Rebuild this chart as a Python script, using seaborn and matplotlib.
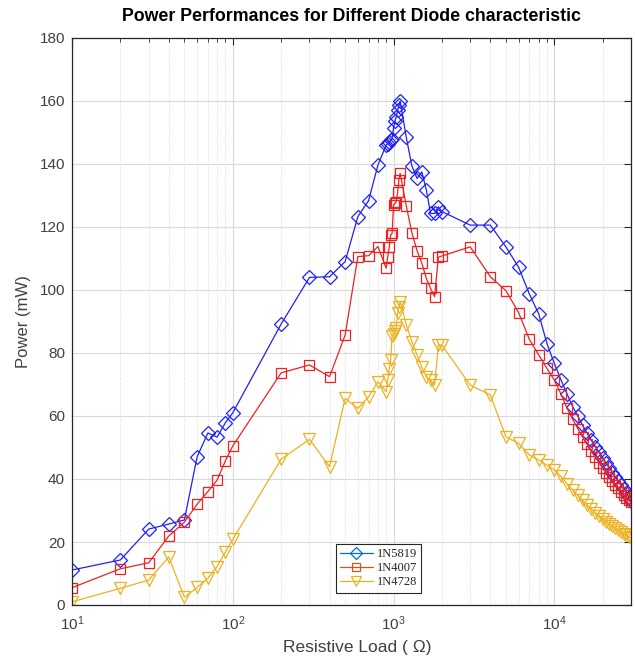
import matplotlib
matplotlib.use("Agg")
import matplotlib.pyplot as plt
import matplotlib.ticker as mticker
from matplotlib.lines import Line2D
import seaborn as sns
import pandas as pd
import numpy as np

# ---------------- data ----------------
load_ohm = [10, 20, 30, 40, 50, 60, 70, 80, 90, 100,
            200, 300, 400, 500, 600, 700, 800,
            900, 920, 940, 960, 980, 1000, 1020, 1040, 1060, 1080, 1100,
            1200, 1300, 1400, 1500, 1600, 1700, 1800, 1900, 2000,
            3000, 4000, 5000, 6000, 7000, 8000, 9000,
            10000, 11000, 12000, 13000, 14000, 15000, 16000, 17000, 18000, 19000,
            20000, 21000, 22000, 23000, 24000, 25000, 26000, 27000, 28000, 29000, 30000]

p_1n5819 = [11.1, 14.3, 24.1, 25.7, 27.0, 47.0, 54.6, 53.3, 57.9, 61.0,
            89.2, 104.0, 104.2, 109.0, 123.3, 128.4, 139.7,
            146.0, 146.5, 147.0, 147.5, 148.0, 151.5, 153.5, 155.0, 157.0, 158.7, 160.0,
            148.5, 139.4, 135.4, 137.5, 131.7, 124.3, 124.3, 126.4, 124.9,
            120.6, 120.6, 113.7, 107.2, 98.7, 92.4, 83.0,
            76.7, 71.5, 67.0, 63.0, 60.0, 57.0, 54.5, 52.3, 50.3, 48.5,
            46.8, 45.0, 43.5, 42.0, 40.6, 39.3, 38.0, 36.8, 35.6, 34.4, 33.0]

p_1n4007 = [5.5, 11.5, 13.4, 21.9, 26.3, 32.0, 36.0, 39.7, 45.8, 50.5,
            73.7, 76.2, 72.5, 85.7, 110.6, 110.9, 113.8,
            106.9, 110.5, 113.5, 117.5, 118.0, 127.0, 127.5, 128.0, 131.0, 135.0, 137.0,
            126.7, 118.2, 112.5, 108.5, 103.7, 100.5, 97.9, 110.4, 110.8,
            113.7, 104.2, 99.8, 92.8, 84.3, 79.4, 75.1,
            71.4, 67.0, 62.5, 59.0, 56.0, 53.3, 51.0, 48.8, 46.9, 45.1,
            43.5, 42.0, 40.6, 39.3, 38.1, 37.0, 35.9, 34.9, 34.0, 33.2, 32.6]

p_1n4728 = [1.0, 5.3, 7.9, 15.3, 2.4, 5.6, 8.5, 12.2, 16.9, 20.8,
            46.3, 52.6, 43.9, 65.6, 62.4, 66.1, 70.9,
            67.7, 71.4, 75.0, 77.8, 85.5, 86.0, 87.0, 88.0, 92.6, 94.5, 96.3,
            89.0, 83.6, 79.4, 75.5, 72.5, 71.4, 69.8, 82.5, 82.5,
            69.8, 66.7, 53.4, 51.3, 47.6, 46.0, 44.4,
            42.9, 40.8, 38.5, 36.5, 34.8, 33.2, 31.8, 30.5, 29.3, 28.3,
            27.3, 26.5, 25.7, 25.0, 24.3, 23.7, 23.1, 22.6, 22.1, 21.7, 21.3]

series_names = ["1N5819", "1N4007", "1N4728"]
y_ticks = [0, 20, 40, 60, 80, 100, 120, 140, 160, 180]

# ---------------- style ----------------
sns.set_theme(style="white")
plt.rcParams['font.family'] = ['Liberation Sans', 'DejaVu Sans']
plt.rcParams['mathtext.fontset'] = 'custom'
plt.rcParams['mathtext.rm'] = 'Liberation Sans'
plt.rcParams['mathtext.it'] = 'Liberation Sans:italic'
plt.rcParams['mathtext.bf'] = 'Liberation Sans:bold'

line_colors = ["#2020F2", "#F02020", "#EDB120"]
legend_colors = ["#0072BD", "#D95319", "#EDB120"]
markers = ["D", "s", "v"]
msizes = [7.3, 6.5, 8.0]

df = pd.DataFrame({
    "load": load_ohm * 3,
    "power": p_1n5819 + p_1n4007 + p_1n4728,
    "diode": sum([[n] * len(load_ohm) for n in series_names], []),
})

fig = plt.figure(figsize=(6.35, 6.61), dpi=100)
ax = fig.add_axes([72 / 635, 1 - 605 / 661, (631 - 72) / 635, (605 - 38) / 661])

for name, col, mk, ms in zip(series_names, line_colors, markers, msizes):
    sub = df[df["diode"] == name]
    sns.lineplot(data=sub, x="load", y="power", ax=ax, sort=False, estimator=None,
                 color=col, linewidth=0.9, marker=mk, markersize=ms,
                 markerfacecolor="none", markeredgecolor=col, markeredgewidth=0.9,
                 legend=False)

ax.set_xscale("log")
ax.set_xlim(10, 30000)
ax.set_ylim(0, 180)
ax.set_yticks(y_ticks)
ax.xaxis.set_major_locator(mticker.LogLocator(base=10))
ax.xaxis.set_minor_locator(mticker.LogLocator(base=10, subs=np.arange(2, 10)))
ax.xaxis.set_minor_formatter(mticker.NullFormatter())

ax.grid(True, which="major", color="#DADADA", linewidth=0.8, linestyle="-")
ax.grid(True, which="minor", axis="x", color="#D8D8D8", linewidth=0.7, linestyle=":")
ax.set_axisbelow(True)

for s in ax.spines.values():
    s.set_color("#262626")
    s.set_linewidth(0.9)
    s.set_visible(True)

ax.tick_params(which="both", direction="in", top=True, right=True, colors="#262626",
               labelsize=11)
ax.tick_params(which="major", length=5, width=0.8)
ax.tick_params(which="minor", length=3, width=0.6)
ax.tick_params(axis="x", which="major", pad=7)
ax.tick_params(axis="y", which="major", pad=5)
for lab in ax.get_xticklabels() + ax.get_yticklabels():
    lab.set_color("#404040")

ax.set_xlabel("Resistive Load ( Ω)", fontsize=12.5, color="#404040", labelpad=6)
ax.set_ylabel("Power (mW)", fontsize=12, color="#404040", labelpad=6)
ax.xaxis.set_label_coords(0.511, -0.062)
ax.set_title("Power Performances for Different Diode characteristic",
             fontsize=12.8, fontweight="bold", color="black", pad=12)

handles = [Line2D([], [], color=c, marker=m, markersize=ms * 0.9, markerfacecolor="none",
                  markeredgecolor=c, linewidth=0.9, markeredgewidth=0.9)
           for c, m, ms in zip(legend_colors, markers, msizes)]
leg = ax.legend(handles, series_names, loc="lower left", bbox_to_anchor=(0.472, 0.022),
                prop={"family": "Liberation Serif", "size": 9}, frameon=True,
                fancybox=False, edgecolor="#262626", framealpha=1, handlelength=2.6,
                borderpad=0.35, labelspacing=0.15, handletextpad=0.3, borderaxespad=0)
leg.get_frame().set_linewidth(0.8)

fig.savefig("out.png", dpi=100)
